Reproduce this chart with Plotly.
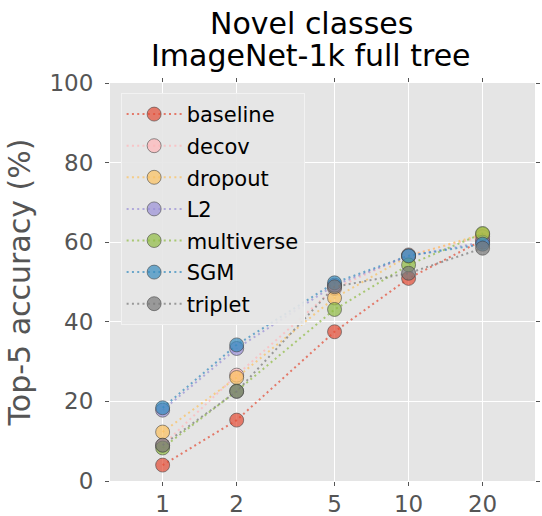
import plotly.graph_objects as go

# Number of training examples per novel class (log-scaled x axis)
shots = [1, 2, 5, 10, 20]
tick_labels = ["1", "2", "5", "10", "20"]

# Top-5 accuracy (%) on novel classes, ImageNet-1k full tree
baseline = [4.0, 15.3, 37.5, 50.9, 60.5]
decov = [9.0, 26.6, 48.4, 56.8, 61.4]
dropout = [12.3, 26.0, 46.0, 56.5, 62.0]
l2 = [17.8, 33.3, 49.2, 56.5, 60.0]
multiverse = [8.3, 22.6, 43.1, 54.3, 62.2]
sgm = [18.4, 34.2, 49.8, 56.6, 59.5]
triplet = [9.0, 22.5, 48.8, 52.2, 58.5]

series = [
    ("baseline", baseline, (226, 74, 51)),
    ("decov", decov, (255, 181, 184)),
    ("dropout", dropout, (251, 193, 94)),
    ("L2", l2, (152, 142, 213)),
    ("multiverse", multiverse, (142, 186, 66)),
    ("SGM", sgm, (52, 138, 189)),
    ("triplet", triplet, (119, 119, 119)),
]

FONT = "DejaVu Sans"

fig = go.Figure()
for name, vals, (r, g, b) in series:
    fig.add_trace(go.Scatter(
        x=shots, y=vals, name=name, legendgroup=name, mode="lines+markers",
        line=dict(color=f"rgba({r},{g},{b},0.7)", width=2, dash="2px,3.3px"),
        marker=dict(size=14, color=f"rgba({r},{g},{b},0.7)",
                    line=dict(color="rgba(60,60,60,0.55)", width=1)),
    ))

axis_common = dict(
    showgrid=True, gridcolor="white", gridwidth=1.3,
    zeroline=False, showline=False, automargin=False,
    ticks="outside", ticklen=4, tickcolor="#555555", tickwidth=1,
    mirror="ticks",
    tickfont=dict(family=FONT, size=23, color="#555555"),
)

fig.update_xaxes(
    type="log", range=[-0.214, 1.514],
    tickvals=shots, ticktext=tick_labels,
    ticklabelstandoff=-2,
    **axis_common,
)
fig.update_yaxes(
    range=[0, 100], tickvals=[0, 20, 40, 60, 80, 100],
    ticklabelstandoff=7,
    title=dict(text="Top-5 accuracy (%)", standoff=9,
               font=dict(family=FONT, size=30, color="#555555")),
    **axis_common,
)

fig.add_annotation(text="Novel classes", xref="paper", yref="paper",
                   x=0.473, y=1, yshift=60, xanchor="center", yanchor="middle",
                   showarrow=False, font=dict(family=FONT, size=30, color="black"))
fig.add_annotation(text="ImageNet-1k full tree", xref="paper", yref="paper",
                   x=0.473, y=1, yshift=28, xanchor="center", yanchor="middle",
                   showarrow=False, font=dict(family=FONT, size=30, color="black"))

fig.update_layout(
    width=542, height=516,
    margin=dict(l=110, r=7, t=83, b=35),
    paper_bgcolor="white", plot_bgcolor="#E5E5E5",
    font=dict(family=FONT),
    legend=dict(
        x=0.025, y=0.975, xanchor="left", yanchor="top",
        bgcolor="rgba(229,229,229,0.9)", bordercolor="#F2F2F2", borderwidth=1,
        font=dict(family=FONT, size=21, color="black"),
        itemwidth=55, tracegroupgap=1.3,
    ),
)

fig.write_html("out.html")
